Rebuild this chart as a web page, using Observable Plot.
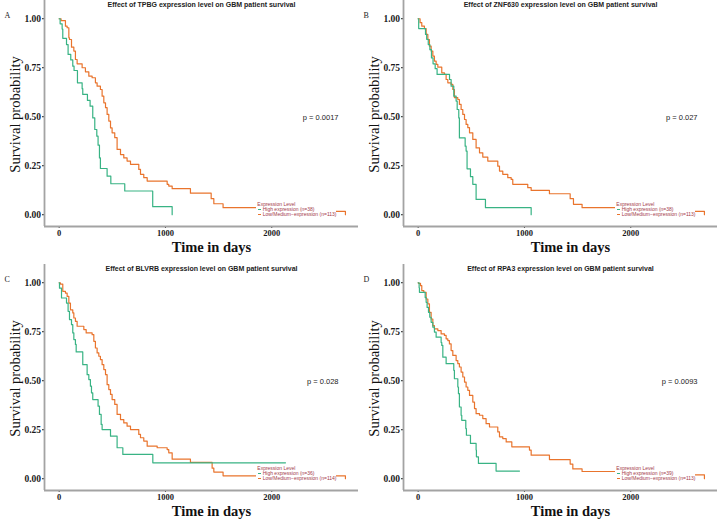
<!DOCTYPE html>
<html><head><meta charset="utf-8">
<script src="https://cdn.jsdelivr.net/npm/d3@7"></script>
<script src="https://cdn.jsdelivr.net/npm/@observablehq/plot@0.6"></script>
<style>
body{margin:0;background:#fff;}
#root{position:relative;width:719px;height:520px;overflow:hidden;background:#fff;}
.panel{position:absolute;width:360px;height:260px;}
.panel svg{display:block;}
.legend{position:absolute;left:256px;top:200.5px;width:80px;height:16px;background:#fff;font-family:"Liberation Sans",Arial,sans-serif;font-size:5px;color:#a33a4a;line-height:5px;}
.legend .row{position:absolute;white-space:nowrap;}
.legend .key{display:inline-block;width:3px;height:0.8px;vertical-align:middle;margin-right:1.7px;}
</style></head><body><div id="root"></div>
<script>
// ---- data (days, survival probability after each step) ----
const tpbgHighDays = [0, 9, 28, 34, 69, 84, 109, 128, 140, 172, 216, 222, 266, 291, 316, 335, 354, 366, 379, 388, 451, 486, 617, 880, 1063];
const tpbgHighSurv = [1, 0.974, 0.947, 0.9, 0.868, 0.818, 0.79, 0.758, 0.736, 0.673, 0.643, 0.614, 0.583, 0.554, 0.494, 0.435, 0.401, 0.355, 0.29, 0.236, 0.197, 0.158, 0.121, 0.041, 0];
const tpbgLowDays = [0, 18, 59, 75, 91, 97, 116, 138, 153, 169, 216, 247, 279, 310, 341, 357, 388, 404, 420, 436, 451, 467, 483, 498, 523, 545, 577, 608, 639, 671, 749, 765, 796, 828, 1016, 1031, 1063, 1235, 1430, 1455, 1542, 2300, 2693];
const tpbgLowSurv = [1, 0.99, 0.962, 0.954, 0.903, 0.894, 0.855, 0.835, 0.792, 0.77, 0.75, 0.729, 0.707, 0.699, 0.673, 0.656, 0.639, 0.605, 0.571, 0.546, 0.512, 0.478, 0.443, 0.418, 0.393, 0.333, 0.307, 0.29, 0.274, 0.257, 0.231, 0.206, 0.189, 0.172, 0.155, 0.146, 0.133, 0.11, 0.082, 0.056, 0.036, 0.017, 0];

const znfHighDays = [0, 5, 69, 80, 95, 110, 125, 140, 160, 178, 295, 310, 335, 357, 367, 382, 388, 442, 451, 460, 492, 514, 545, 633, 1063];
const znfHighSurv = [1, 0.95, 0.92, 0.895, 0.868, 0.842, 0.8, 0.77, 0.745, 0.716, 0.69, 0.656, 0.605, 0.58, 0.537, 0.494, 0.392, 0.35, 0.325, 0.234, 0.194, 0.155, 0.078, 0.036, 0];
const znfLowDays = [0, 18, 34, 59, 75, 91, 106, 122, 138, 153, 169, 185, 222, 247, 263, 279, 310, 326, 341, 373, 388, 404, 420, 436, 451, 467, 483, 514, 545, 577, 608, 655, 749, 765, 796, 843, 875, 890, 1031, 1063, 1235, 1430, 1461, 1542, 2300, 2693];
const znfLowSurv = [1, 0.98, 0.962, 0.95, 0.92, 0.894, 0.86, 0.835, 0.809, 0.784, 0.767, 0.753, 0.724, 0.716, 0.69, 0.673, 0.665, 0.639, 0.597, 0.588, 0.563, 0.537, 0.512, 0.486, 0.461, 0.444, 0.418, 0.384, 0.341, 0.316, 0.294, 0.274, 0.248, 0.223, 0.206, 0.189, 0.18, 0.155, 0.138, 0.124, 0.107, 0.082, 0.053, 0.036, 0.017, 0];

const blvrbHighDays = [0, 3, 22, 69, 84, 97, 116, 128, 138, 153, 160, 222, 263, 279, 294, 304, 316, 366, 379, 395, 404, 483, 545, 599, 881, 2129];
const blvrbHighSurv = [1, 0.972, 0.922, 0.896, 0.854, 0.812, 0.786, 0.744, 0.71, 0.685, 0.647, 0.582, 0.531, 0.506, 0.472, 0.438, 0.404, 0.37, 0.328, 0.277, 0.251, 0.217, 0.158, 0.124, 0.081, 0.081];
const blvrbLowDays = [0, 12, 34, 59, 75, 91, 106, 128, 138, 153, 169, 232, 254, 310, 326, 341, 357, 373, 388, 404, 420, 436, 451, 467, 483, 498, 523, 545, 577, 608, 639, 671, 749, 765, 796, 828, 922, 1016, 1031, 1063, 1235, 1439, 1455, 1542, 2693];
const blvrbLowSurv = [1, 0.993, 0.956, 0.947, 0.93, 0.896, 0.862, 0.846, 0.82, 0.803, 0.778, 0.761, 0.744, 0.735, 0.701, 0.667, 0.642, 0.625, 0.608, 0.582, 0.557, 0.531, 0.48, 0.455, 0.43, 0.404, 0.379, 0.328, 0.302, 0.285, 0.268, 0.251, 0.226, 0.209, 0.192, 0.166, 0.158, 0.149, 0.132, 0.1, 0.083, 0.054, 0.034, 0.015, 0];

const rpa3HighDays = [0, 9, 12, 66, 75, 84, 97, 109, 122, 138, 153, 169, 216, 222, 232, 263, 335, 341, 373, 379, 388, 404, 410, 448, 454, 492, 545, 548, 567, 733, 953];
const rpa3HighSurv = [1, 0.974, 0.951, 0.925, 0.9, 0.874, 0.849, 0.824, 0.798, 0.773, 0.748, 0.722, 0.695, 0.68, 0.62, 0.587, 0.553, 0.51, 0.468, 0.434, 0.366, 0.324, 0.298, 0.256, 0.222, 0.18, 0.146, 0.112, 0.078, 0.039, 0.039];
const rpa3LowDays = [0, 3, 22, 34, 53, 75, 91, 106, 122, 138, 153, 185, 216, 247, 263, 279, 294, 310, 326, 357, 373, 388, 404, 420, 436, 451, 467, 483, 514, 530, 545, 577, 608, 639, 671, 749, 765, 796, 828, 881, 1047, 1063, 1235, 1430, 1455, 1542, 2300, 2693];
const rpa3LowSurv = [1, 0.997, 0.985, 0.96, 0.951, 0.917, 0.892, 0.849, 0.815, 0.781, 0.765, 0.756, 0.739, 0.731, 0.714, 0.705, 0.688, 0.654, 0.629, 0.603, 0.587, 0.57, 0.544, 0.519, 0.493, 0.468, 0.451, 0.425, 0.391, 0.358, 0.332, 0.324, 0.307, 0.281, 0.264, 0.239, 0.214, 0.205, 0.188, 0.163, 0.146, 0.12, 0.098, 0.075, 0.05, 0.037, 0.02, 0];

const panelLetters = ["A", "B", "C", "D"];
const genes = ["TPBG", "ZNF630", "BLVRB", "RPA3"];
const pValues = ["0.0017", "0.027", "0.028", "0.0093"];
const nHigh = [38, 38, 36, 39];
const nLow = [113, 113, 114, 113];
const xTicks = [0, 1000, 2000];
const yTicks = [0, 0.25, 0.5, 0.75, 1];

const highColor = "#38b384";
const lowColor = "#e9742d";
const curves = [
  [tpbgHighDays, tpbgHighSurv, tpbgLowDays, tpbgLowSurv],
  [znfHighDays, znfHighSurv, znfLowDays, znfLowSurv],
  [blvrbHighDays, blvrbHighSurv, blvrbLowDays, blvrbLowSurv],
  [rpa3HighDays, rpa3HighSurv, rpa3LowDays, rpa3LowSurv]
];
const placement = [[0, 0], [359, 0], [0, 264], [359, 264]];

const root = document.getElementById("root");
const serif = "Liberation Serif, Times New Roman, serif";
const sans = "Liberation Sans, Arial, sans-serif";

curves.forEach(([hd, hs, ld, ls], i) => {
  const high = hd.map((t, j) => ({t, s: hs[j]}));
  const low = ld.map((t, j) => ({t, s: ls[j]}));
  const xDom = [-138, 2816], yDom = [-0.06, 1.093];
  const svg = Plot.plot({
    width: 360, height: 260,
    marginLeft: 44, marginRight: 2, marginTop: 0, marginBottom: 34,
    x: {domain: xDom},
    y: {domain: yDom},
    style: {background: "white", overflow: "visible"},
    marks: [
      Plot.axisY({ticks: yTicks, tickFormat: d3.format(".2f"), tickSize: 2, tickPadding: 1.5,
        fontSize: 9.5, fontWeight: "bold", fontFamily: serif, color: "#1a1a1a", label: null}),
      Plot.axisX({ticks: xTicks, tickFormat: d3.format("d"), tickSize: 2, tickPadding: 1.5,
        fontSize: 8.5, fontWeight: "bold", fontFamily: serif, color: "#1a1a1a", label: null}),
      Plot.ruleX([xDom[0]], {stroke: "#a3a3a3", strokeWidth: 1.8}),
      Plot.ruleY([yDom[0]], {stroke: "#a3a3a3", strokeWidth: 1.8}),
      Plot.line(low, {x: "t", y: "s", curve: "step-after", stroke: lowColor, strokeWidth: 1.2}),
      Plot.line(high, {x: "t", y: "s", curve: "step-after", stroke: highColor, strokeWidth: 1.2}),
      Plot.text([`Effect of ${genes[i]} expression level on GBM patient survival`], {text: d => d,
        frameAnchor: "top", dy: 4.5, textAnchor: "middle", lineAnchor: "middle", fontFamily: sans, fontWeight: "bold", fontSize: 7, fill: "#222"}),
      Plot.text([panelLetters[i]], {text: d => d, frameAnchor: "top-left", dx: -40, dy: 15,
        textAnchor: "start", lineAnchor: "middle", fontFamily: serif, fontSize: 8, fill: "#222"}),
      Plot.text(["Time in days"], {text: d => d, frameAnchor: "bottom", dx: 10, dy: 21,
        textAnchor: "middle", lineAnchor: "middle", fontFamily: serif, fontWeight: "bold", fontSize: 14.5, fill: "#111"}),
      Plot.text(["Survival probability"], {text: d => d, frameAnchor: "left", dx: -29, dy: 1, rotate: -90,
        textAnchor: "middle", lineAnchor: "middle", fontFamily: serif, fontSize: 14.5, fill: "#111"}),
      Plot.text([`p = ${pValues[i]}`], {text: d => d, frameAnchor: "right", dx: -20, dy: 4,
        textAnchor: "end", lineAnchor: "middle", fontFamily: sans, fontSize: 7.5, fill: "#222"})
    ]
  });
  const div = document.createElement("div");
  div.className = "panel";
  div.style.left = placement[i][0] + "px";
  div.style.top = placement[i][1] + "px";
  div.appendChild(svg);
  const lg = document.createElement("div");
  lg.className = "legend";
  lg.innerHTML =
    `<div class="row" style="left:1.3px;top:1px">Expression Level</div>` +
    `<div class="row" style="left:2px;top:6.5px"><span class="key" style="background:${highColor}"></span>High expression (n=${nHigh[i]})</div>` +
    `<div class="row" style="left:2px;top:11px"><span class="key" style="background:${lowColor}"></span>Low/Medium\u2212expression (n=${nLow[i]})</div>`;
  div.appendChild(lg);
  root.appendChild(div);
});
</script></body></html>
